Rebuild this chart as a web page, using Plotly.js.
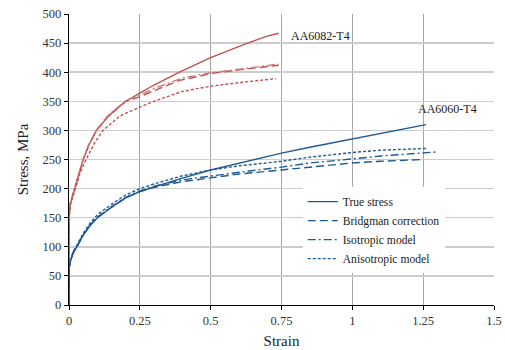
<!DOCTYPE html>
<html>
<head>
<meta charset="utf-8">
<script src="https://cdn.plot.ly/plotly-3.0.1.min.js"></script>
<style>
  html, body { margin: 0; padding: 0; background: #fff; }
  #chart { width: 505px; height: 350px; }
</style>
</head>
<body>
<div id="chart"></div>
<script>
// AA6082-T4 flow curves (strain, stress in MPa)
const a6082TrueX = [0, 0, 0.005, 0.02, 0.035, 0.05, 0.07, 0.097, 0.14, 0.2, 0.25, 0.3, 0.39, 0.5, 0.63, 0.7, 0.74];
const a6082TrueY = [0, 150, 175, 200, 225, 250, 275, 300, 325, 350, 364, 378, 400, 425, 450, 462, 467];
const a6082BridgX = [0, 0, 0.005, 0.02, 0.035, 0.05, 0.07, 0.097, 0.14, 0.2, 0.25, 0.3, 0.39, 0.46, 0.5, 0.6, 0.7, 0.74];
const a6082BridgY = [0, 150, 175, 200, 225, 250, 275, 300, 325, 350, 358, 368, 386, 393, 398, 404, 410, 412];
const a6082IsoX = [0, 0, 0.005, 0.02, 0.035, 0.05, 0.07, 0.097, 0.14, 0.2, 0.25, 0.3, 0.4, 0.5, 0.6, 0.74];
const a6082IsoY = [0, 150, 176, 201, 226, 251, 276, 301, 327, 351, 361, 372, 390, 399, 405, 414];
const a6082AnisoX = [0, 0, 0.005, 0.02, 0.04, 0.06, 0.09, 0.12, 0.18, 0.25, 0.3, 0.4, 0.5, 0.6, 0.73];
const a6082AnisoY = [0, 150, 172, 198, 228, 250, 278, 300, 325, 340, 350, 367, 376, 382, 389];

// AA6060-T4 flow curves
const a6060TrueX = [0, 0, 0.005, 0.015, 0.028, 0.05, 0.075, 0.1, 0.15, 0.2, 0.25, 0.3, 0.4, 0.5, 0.6, 0.75, 0.85, 1.0, 1.1, 1.26];
const a6060TrueY = [0, 62, 75, 90, 100, 120, 137, 150, 168, 184, 195, 203, 218, 232, 244, 261, 271, 285, 294, 310];
const a6060BridgX = [0, 0, 0.005, 0.015, 0.028, 0.05, 0.075, 0.1, 0.15, 0.2, 0.25, 0.3, 0.4, 0.5, 0.6, 0.75, 0.85, 1.0, 1.1, 1.25];
const a6060BridgY = [0, 62, 75, 90, 100, 120, 137, 150, 168, 184, 195, 202, 212, 219, 225, 232, 237, 244, 247, 250];
const a6060IsoX = [0, 0, 0.005, 0.015, 0.028, 0.05, 0.075, 0.1, 0.15, 0.2, 0.25, 0.3, 0.4, 0.5, 0.6, 0.75, 0.85, 1.0, 1.1, 1.3];
const a6060IsoY = [0, 62, 76, 91, 101, 121, 138, 151, 169, 185, 196, 204, 215, 222, 228, 237, 244, 251, 256, 263];
const a6060AnisoX = [0, 0, 0.005, 0.015, 0.028, 0.05, 0.075, 0.1, 0.15, 0.2, 0.25, 0.3, 0.4, 0.5, 0.6, 0.75, 0.85, 1.0, 1.1, 1.26];
const a6060AnisoY = [0, 62, 76, 92, 103, 123, 141, 155, 173, 189, 200, 208, 222, 232, 239, 247, 254, 262, 266, 269];

const seriesNames = ['True stress', 'Bridgman correction', 'Isotropic model', 'Anisotropic model'];
const xTicks = [0, 0.25, 0.5, 0.75, 1, 1.25, 1.5];
const xTickText = ['0', '0.25', '0.5', '0.75', '1', '1.25', '1.5'];
const yTicks = [0, 50, 100, 150, 200, 250, 300, 350, 400, 450, 500];

const RED = '#C0504D';
const RED_LIGHT = '#D27A77';
const BLUE = '#1F5A92';
const dashes = ['solid', '8px,4px', '8px,3px,2px,3px', '3px,2px'];
const serif = '"Liberation Serif", "Times New Roman", serif';

function curve(x, y, color, idx, legend) {
  return {
    x: x, y: y, type: 'scatter', mode: 'lines',
    name: seriesNames[idx],
    showlegend: legend,
    line: { color: color, width: 1.4, dash: dashes[idx] },
    hoverinfo: 'skip'
  };
}

const data = [
  curve(a6082TrueX, a6082TrueY, RED, 0, false),
  curve(a6082BridgX, a6082BridgY, RED, 1, false),
  curve(a6082IsoX, a6082IsoY, RED_LIGHT, 2, false),
  curve(a6082AnisoX, a6082AnisoY, RED, 3, false),
  curve(a6060TrueX, a6060TrueY, BLUE, 0, true),
  curve(a6060BridgX, a6060BridgY, BLUE, 1, true),
  curve(a6060IsoX, a6060IsoY, BLUE, 2, true),
  curve(a6060AnisoX, a6060AnisoY, BLUE, 3, true)
];

const layout = {
  width: 505, height: 350,
  margin: { l: 69, r: 11, t: 14, b: 45 },
  paper_bgcolor: '#fff', plot_bgcolor: '#fff',
  font: { family: serif, size: 12, color: '#222' },
  showlegend: true,
  legend: {
    x: 0.55, y: 0.405, xanchor: 'left', yanchor: 'top',
    bgcolor: '#fff', borderwidth: 0,
    font: { family: serif, size: 11.6, color: '#222' },
    tracegroupgap: 0, itemwidth: 30
  },
  xaxis: {
    range: [0, 1.5], tickvals: xTicks, ticktext: xTickText,
    showline: true, linecolor: '#000', linewidth: 1.2,
    ticks: 'outside', ticklen: 4, tickcolor: '#000',
    showgrid: true, gridcolor: '#a6a6a6', gridwidth: 1,
    zeroline: false, mirror: false,
    tickfont: { family: serif, size: 12.5, color: '#333' },
    title: { text: 'Strain', font: { family: serif, size: 15, color: '#222' }, standoff: 8 }
  },
  yaxis: {
    range: [0, 500], tickvals: yTicks,
    showline: true, linecolor: '#000', linewidth: 1.2,
    ticks: 'outside', ticklen: 4, tickcolor: '#000',
    showgrid: true, gridcolor: '#cccccc', gridwidth: 1.5,
    zeroline: false,
    tickfont: { family: serif, size: 12.5, color: '#333' },
    title: { text: 'Stress, MPa', font: { family: serif, size: 15, color: '#222' }, standoff: 10 }
  },
  annotations: [
    { x: 0.777, y: 463, xref: 'x', yref: 'y', text: 'AA6082-T4', showarrow: false,
      xanchor: 'left', yanchor: 'middle', font: { family: serif, size: 12, color: '#222' } },
    { x: 1.225, y: 336, xref: 'x', yref: 'y', text: 'AA6060-T4', showarrow: false,
      xanchor: 'left', yanchor: 'middle', font: { family: serif, size: 12, color: '#222' } }
  ]
};

Plotly.newPlot('chart', data, layout, { staticPlot: true, displayModeBar: false });
</script>
</body>
</html>
